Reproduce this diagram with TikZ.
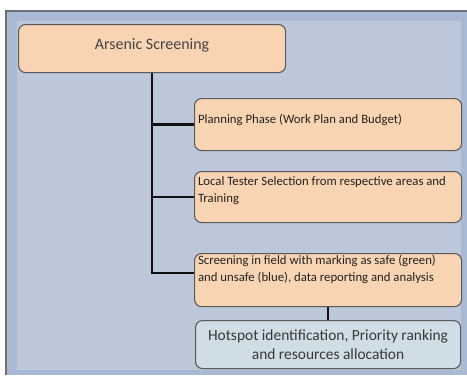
\documentclass[tikz,border=0pt]{standalone}
\usepackage{fontspec}
\setmainfont{Carlito}
\usetikzlibrary{positioning}
\definecolor{Frame}{HTML}{A9B8D3}
\definecolor{FrameEdge}{HTML}{6B6F78}
\definecolor{Panel}{HTML}{BCC7DA}
\definecolor{Peach}{HTML}{F9D4B3}
\definecolor{Haze}{HTML}{CFDDE6}
\definecolor{Edge}{HTML}{5A5A5A}
\definecolor{Ink}{HTML}{222222}
\definecolor{Wire}{HTML}{111111}
\tikzset{
  headbox/.style={draw=Edge,fill=Peach,rounded corners=7bp,line width=1.1bp,anchor=north west,minimum width=267bp,minimum height=48bp,text=Ink!85,font=\fontsize{16}{19}\selectfont,text height=12bp,text depth=10bp},
  stepbox/.style={draw=Edge,fill=Peach,rounded corners=7bp,line width=1.1bp,anchor=north west,minimum width=267bp,inner xsep=3bp,inner ysep=1.5bp,text=Ink,font=\fontsize{12.8}{17}\selectfont},
  resultbox/.style={draw=Edge,fill=Haze,rounded corners=7bp,line width=1.1bp,anchor=north west,minimum width=265bp,minimum height=48bp,align=center,text=Ink!90,font=\fontsize{15.5}{19}\selectfont},
  link/.style={draw=Wire,line width=2.6bp}
}
% text block of a step, pinned to the top of its box
\newcommand{\steptext}[3]{\parbox[c][#1][t]{260bp}{\raggedright\vspace*{#2}#3}}

\begin{document}
\begin{tikzpicture}[x=1bp,y=-1bp]
  \useasboundingbox (0,0) rectangle (467,375);
  % panel behind the chart
  \fill[Frame] (6,11) rectangle (467,375);
  \fill[Panel] (17,21) rectangle (461,370);
  \draw[FrameEdge,line width=1.8bp] (6,375) |- (467,11);

  \node[headbox] (screening) at (18,24) {Arsenic Screening};
  \node[stepbox] (planning) at (194,98) {\steptext{49bp}{14bp}{Planning Phase (Work Plan and Budget)}};
  \node[stepbox] (testers) at (194,171) {\steptext{48bp}{4bp}{Local Tester Selection from respective areas and\\Training}};
  \node[stepbox] (fieldwork) at (194,253) {\steptext{50bp}{0bp}{Screening in field with marking as safe (green)\\and unsafe (blue), data reporting and analysis}};
  \node[resultbox] (hotspot) at (195,320) {Hotspot identification, Priority ranking\\and resources allocation};

  % trunk and branches
  \draw[link] (screening.south) |- ([yshift=7bp]fieldwork.west);
  \draw[link] (screening.south) |- (planning.west);
  \draw[link] (screening.south) |- (testers.west);
  \draw[link] (fieldwork.south) -- (hotspot.north);
\end{tikzpicture}
\end{document}
